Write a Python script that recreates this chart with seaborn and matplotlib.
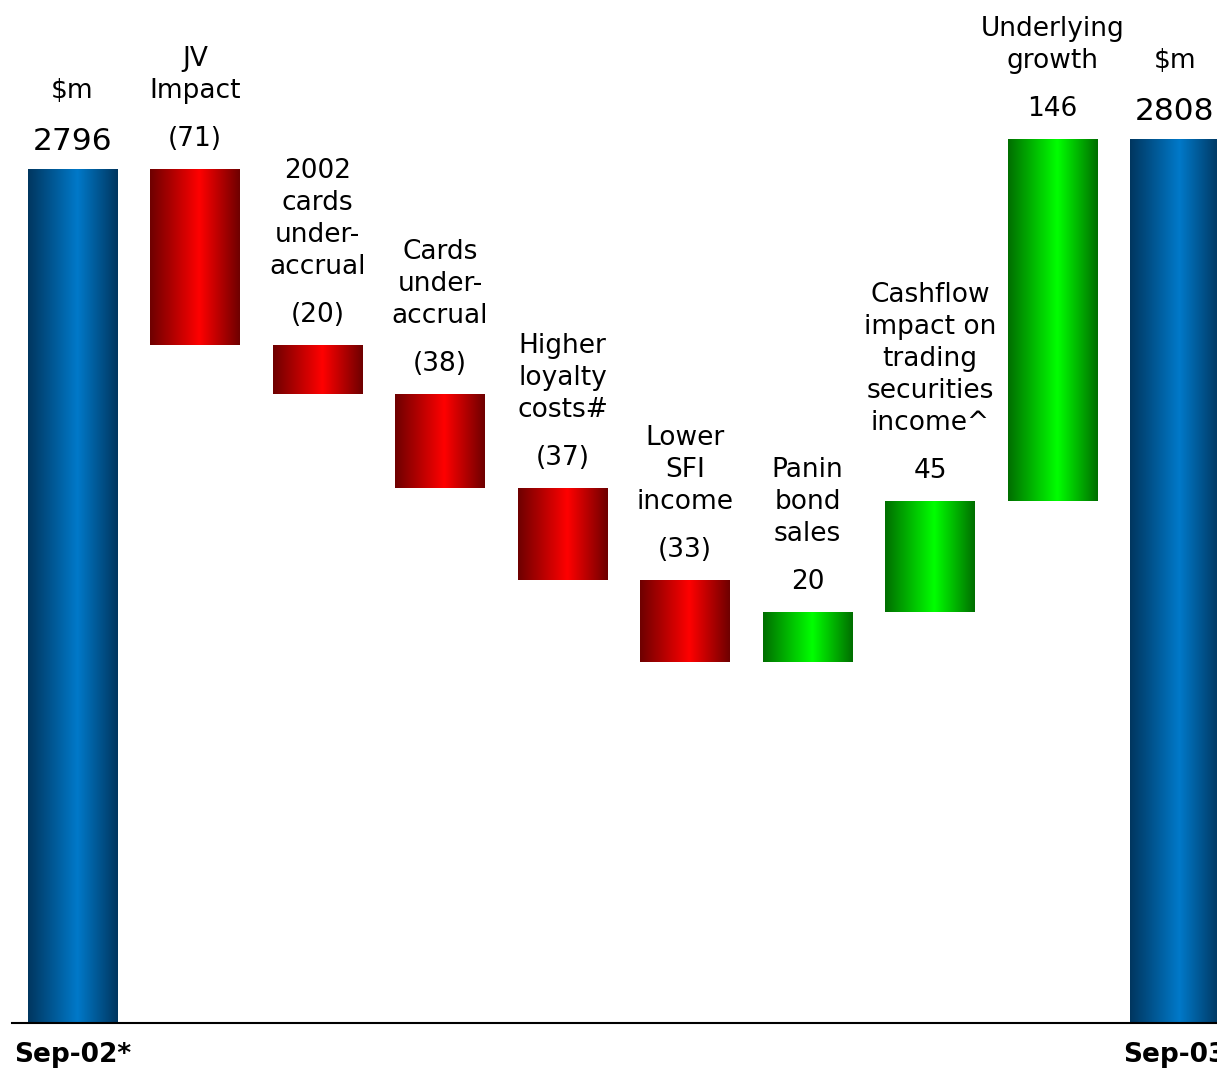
"""
waterfall: Sep-02 -> Sep-03 ($m)
"""
import numpy as np
import pandas as pd
import matplotlib
matplotlib.use('Agg')
import matplotlib.pyplot as plt
import seaborn as sns
from matplotlib.colors import LinearSegmentedColormap

# data
start_label = 'Sep-02*'
end_label = 'Sep-03'
start_total = 2796
end_total = 2808
unit_label = '$m'
step_names = ['JV\nImpact', '2002\ncards\nunder-\naccrual', 'Cards\nunder-\naccrual',
              'Higher\nloyalty\ncosts#', 'Lower\nSFI\nincome', 'Panin\nbond\nsales',
              'Cashflow\nimpact on\ntrading\nsecurities\nincome^', 'Underlying\ngrowth']
step_changes = [-71, -20, -38, -37, -33, 20, 45, 146]
y_range = (2451, 2864.3)   # truncated value axis

sns.set_theme(style='white')
plt.rcParams['font.family'] = ['DejaVu Sans']

# build waterfall table (total bars start at the axis cut)
rows = [dict(name=start_label, bottom=y_range[0], height=start_total - y_range[0],
             kind='total', label=str(start_total))]
running = start_total
for n, c in zip(step_names, step_changes):
    rows.append(dict(name=n, bottom=running + min(c, 0), height=abs(c),
                     kind='down' if c < 0 else 'up',
                     label=f'({abs(c)})' if c < 0 else str(c)))
    running += c
rows.append(dict(name=end_label, bottom=y_range[0], height=end_total - y_range[0],
                 kind='total', label=str(end_total)))
df = pd.DataFrame(rows)
df['pos'] = np.arange(len(df))
df['top'] = df['bottom'] + df['height']

# gradient colormaps (dark edges, bright centre)
cmaps = {
    'total': LinearSegmentedColormap.from_list('blue', [(0, '#00365f'), (0.55, '#0079c9'), (1, '#00365f')]),
    'down': LinearSegmentedColormap.from_list('red', [(0, '#6e0000'), (0.55, '#ff0000'), (1, '#6e0000')]),
    'up': LinearSegmentedColormap.from_list('green', [(0, '#006e00'), (0.55, '#00ff00'), (1, '#006e00')]),
}
grad = np.linspace(0, 1, 256).reshape(1, -1)

fig = plt.figure(figsize=(12.17, 10.68), dpi=100)
ax = fig.add_axes([12 / 1217, 45 / 1068, 1205 / 1217, 1023 / 1068])

sns.barplot(data=df, x='pos', y='height', ax=ax, width=0.727, color='white',
            errorbar=None, saturation=1)

for patch, (_, r) in zip(ax.patches, df.iterrows()):
    patch.set_y(r['bottom'])
    patch.set_height(r['height'])
    patch.set_facecolor('none')
    patch.set_edgecolor('none')
    x0 = patch.get_x()
    x1 = x0 + patch.get_width()
    im = ax.imshow(grad, extent=[x0, x1, r['bottom'], r['top']], aspect='auto',
                   cmap=cmaps[r['kind']], interpolation='bilinear', zorder=2)
    im.set_clip_path(patch)

    # labels above the bar
    if r['kind'] == 'total':
        ax.annotate(r['label'], (r['pos'], r['top']), xytext=(0, 22), textcoords='offset points',
                    ha='center', va='center_baseline', fontsize=22.5, color='black')
        ax.annotate(unit_label, (r['pos'], r['top']), xytext=(0, 22 + 36.5), textcoords='offset points',
                    ha='center', va='center_baseline', fontsize=19, color='black')
    else:
        ax.annotate(r['label'], (r['pos'], r['top']), xytext=(0, 23.8), textcoords='offset points',
                    ha='center', va='center_baseline', fontsize=19, color='black')
        for k, line in enumerate(reversed(r['name'].split('\n'))):
            ax.annotate(line, (r['pos'], r['top']), xytext=(0, 23.8 + 34.6 + 23 * k),
                        textcoords='offset points', ha='center', va='center_baseline',
                        fontsize=19, color='black')

ax.set_xlim(-0.494, 9.343)
ax.set_ylim(*y_range)
ax.set_xticks([0, len(df) - 1], [start_label, end_label], fontsize=19, fontweight='bold',
              color='black')
ax.set_yticks([])
ax.tick_params(axis='x', length=0, pad=14)
ax.set_xlabel('')
ax.set_ylabel('')
for s in ['top', 'right', 'left']:
    ax.spines[s].set_visible(False)
ax.spines['bottom'].set_color('black')
ax.spines['bottom'].set_linewidth(1.5)
ax.spines['bottom'].set_zorder(3)

plt.savefig('out.png', dpi=100)
plt.close()
